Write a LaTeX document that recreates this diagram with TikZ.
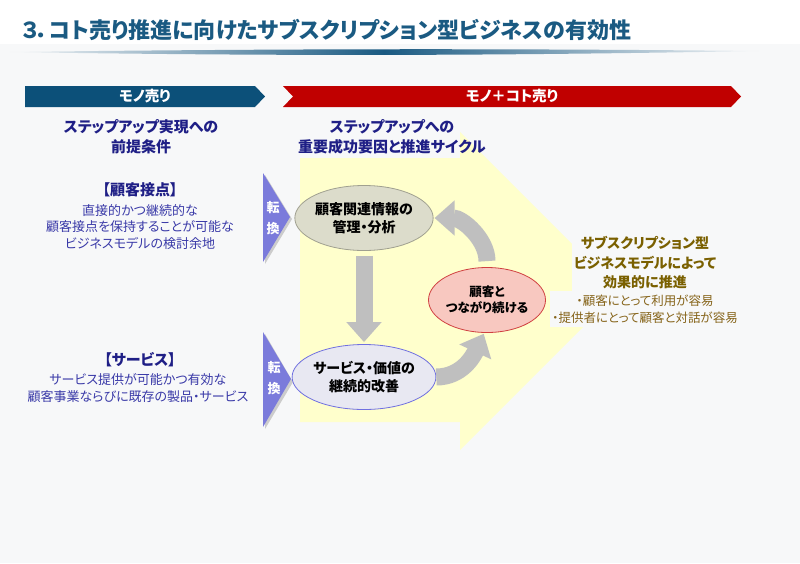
\documentclass[tikz,border=0pt]{standalone}
\usepackage{fontspec}
\setmainfont{Noto Sans CJK JP}[RawFeature=+palt]
\usetikzlibrary{positioning,shapes.geometric,arrows.meta}
\definecolor{pagebg}{HTML}{F7F8F9}
\definecolor{ttl}{HTML}{1A5A82}
\definecolor{mono}{HTML}{0C5079}
\definecolor{koto}{HTML}{C00000}
\definecolor{navy}{HTML}{1F1F86}
\definecolor{bodyblue}{HTML}{3A3AA8}
\definecolor{olive}{HTML}{7A6000}
\definecolor{olivelt}{HTML}{86641A}
\definecolor{paleyel}{HTML}{FFFFCC}
\definecolor{tenkan}{HTML}{7B7BDB}
\definecolor{cycgray}{HTML}{BFBFBF}
\definecolor{efill}{HTML}{DCDCCB}
\definecolor{eline}{HTML}{A0A090}
\definecolor{sfill}{HTML}{E8E8F2}
\definecolor{sline}{HTML}{7070E0}
\definecolor{cfill}{HTML}{F8C8C0}
\definecolor{cline}{HTML}{D04040}
\tikzset{bartext/.style={text=white,font=\bfseries\fontsize{14.5}{16}\selectfont,inner sep=0pt}}
\tikzset{head/.style={align=center,text=navy,font=\bfseries\fontsize{15}{20}\selectfont}}
\tikzset{lead/.style={text=navy,font=\bfseries\fontsize{15}{17}\selectfont}}
\tikzset{body/.style={align=center,text=bodyblue,font=\fontsize{13}{16.5}\selectfont}}
\tikzset{tk/.style={align=center,text=white,font=\bfseries\fontsize{13}{21}\selectfont,inner sep=0pt}}
\tikzset{cyc/.style={ellipse,draw,line width=0.8pt,minimum width=117pt,minimum height=65pt,inner sep=0pt,align=center,font=\bfseries\fontsize{14}{17.5}\selectfont}}
\tikzset{flow/.style={->,draw=cycgray,line width=17pt}}

\begin{document}
\begin{tikzpicture}[x=1pt, y=-1pt, >={Triangle[width=34pt,length=20pt]}]
    \useasboundingbox (0,0) rectangle (800,563);
    \fill[pagebg] (0,0) rectangle (800,563);
    \fill[white] (0,0) rectangle (800,44);
    \node[anchor=west,text=ttl,font=\bfseries\fontsize{22}{24}\selectfont] (T) at (18,30) {３．コト売り推進に向けたサブスクリプション型ビジネスの有効性};
    \shade[left color=pagebg,right color=pagebg,middle color=ttl] (8,52) .. controls (300,48.5) and (500,48.5) .. (760,51) .. controls (500,55.5) and (300,56.5) .. (8,52) -- cycle;

    \fill[mono] (25,86) -- (255,86) -- (265,96.5) -- (255,107) -- (25,107) -- cycle;
    \node[bartext] (M) at (145,96.5) {モノ売り};
    \fill[koto] (283,86) -- (731,86) -- (741,96.5) -- (731,107) -- (283,107) -- (293,96.5) -- cycle;
    \node[bartext] (K) at (512,96.5) {モノ＋コト売り};

    \fill[paleyel] (300,158) -- (460,158) -- (460,132) -- (619,291) -- (460,450) -- (460,422) -- (300,422) -- cycle;

    \node[head] (H1) at (141,137) {ステップアップ実現への\\前提条件};
    \node[head] (H2) at (392,137) {ステップアップへの\\重要成功要因と推進サイクル};

    \node[lead] (P1) at (140,190) {【顧客接点】};
    \node[body] (Q1) at (140,227) {直接的かつ継続的な\\顧客接点を保持することが可能な\\ビジネスモデルの検討余地};
    \node[lead] (P2) at (140,360) {【サービス】};
    \node[body] (Q2) at (138,388) {サービス提供が可能かつ有効な\\顧客事業ならびに既存の製品・サービス};

    \fill[black!20] (265,175) -- (292,219) -- (265,264) -- cycle;
    \fill[tenkan] (263,173) -- (290,217) -- (263,262) -- cycle;
    \node[tk] (C1) at (273,218) {転\\換};
    \fill[black!20] (265,334) -- (293,382) -- (265,429) -- cycle;
    \fill[tenkan] (263,332) -- (291,379) -- (263,427) -- cycle;
    \node[tk] (C2) at (274,378) {転\\換};

    \node[cyc,fill=efill,draw=eline] (E1) at (364,218) {顧客関連情報の\\管理・分析};
    \node[cyc,fill=sfill,draw=sline] (E2) at (364,377) {サービス・価値の\\継続的改善};
    \node[cyc,fill=cfill,draw=cline,font=\bfseries\fontsize{12.5}{15.5}\selectfont] (E3) at (487,300) {顧客と\\つながり続ける};

    \draw[flow,shorten <=5pt,shorten >=2pt] (E1.south) -- (E2.north);
    \draw[flow,shorten >=1pt] (E2.east) to[out=0,in=-115] (E3.-95);
    \draw[flow,shorten <=6pt,shorten >=1pt] (E3.north) to[out=90,in=0] (E1.east);

    \node[fill=pagebg,align=center,text=olive,inner sep=2pt,font=\bfseries\fontsize{14}{19.5}\selectfont] (G) at (645,263) {サブスクリプション型\\ビジネスモデルによって\\効果的に推進};
    \node[fill=pagebg,align=center,text=olivelt,inner xsep=2pt,inner ysep=4pt,font=\fontsize{12.5}{16.5}\selectfont,below=-0.5pt of G] (B) {・顧客にとって利用が容易\\・提供者にとって顧客と対話が容易};
\end{tikzpicture}
\end{document}
